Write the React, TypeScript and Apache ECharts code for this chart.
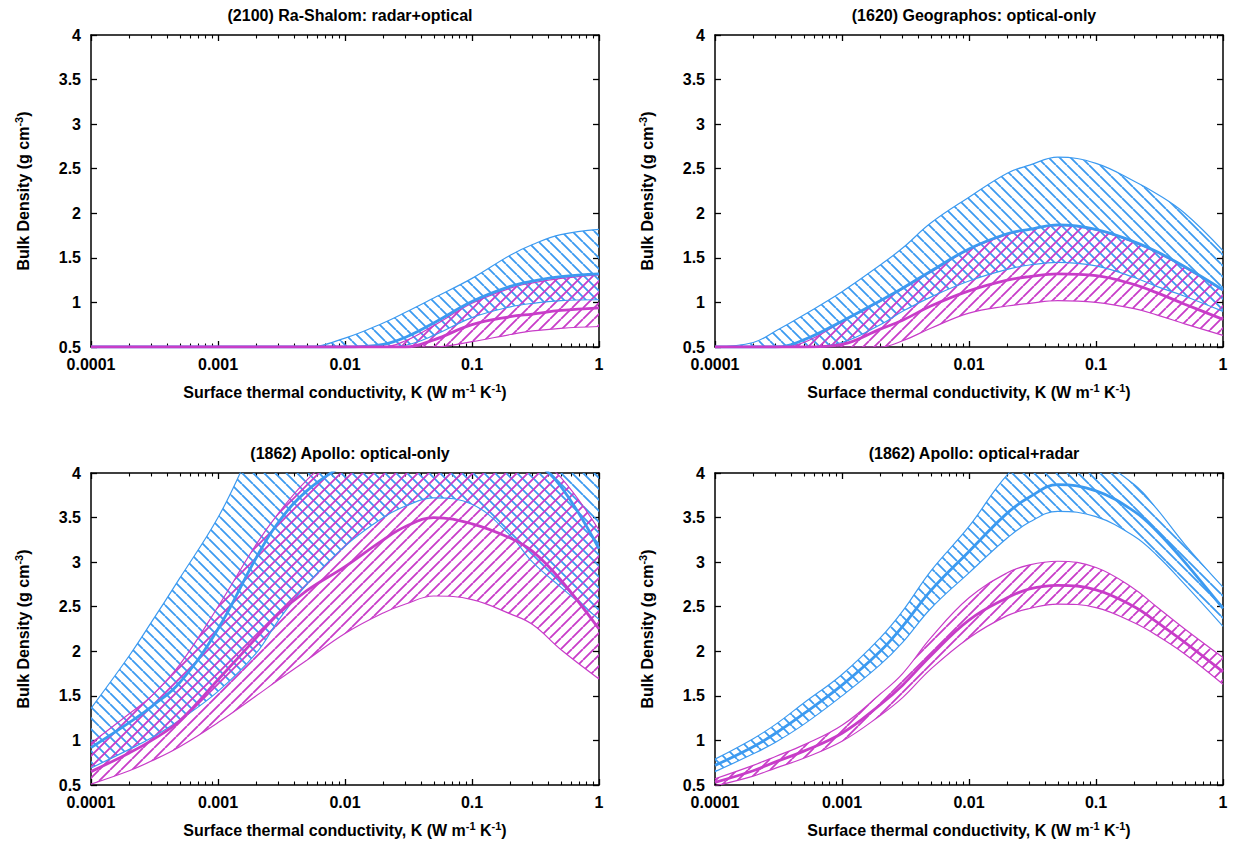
import React, { useEffect, useRef } from 'react';
import * as echarts from 'echarts';

// ---------------- data ----------------
const K = [0.0001, 0.0002, 0.0003, 0.0005, 0.001, 0.002, 0.003, 0.005, 0.01, 0.02, 0.03, 0.05, 0.1, 0.2, 0.3, 0.5, 1];

const titles = [
  '(2100) Ra-Shalom: radar+optical',
  '(1620) Geographos: optical-only',
  '(1862) Apollo: optical-only',
  '(1862) Apollo: optical+radar',
];

const xTickValues = [0.0001, 0.001, 0.01, 0.1, 1];
const xTickLabels = ['0.0001', '0.001', '0.01', '0.1', '1'];
const minorMultipliers = [2, 3, 4, 5, 6, 7, 8, 9];

// (2100) Ra-Shalom
const raBlueLow = [0.5, 0.5, 0.5, 0.5, 0.5, 0.5, 0.5, 0.5, 0.5, 0.5, 0.52, 0.63, 0.83, 0.95, 0.99, 1.02, 1.03];
const raBlueMid = [0.5, 0.5, 0.5, 0.5, 0.5, 0.5, 0.5, 0.5, 0.5, 0.53, 0.61, 0.77, 1.01, 1.18, 1.24, 1.29, 1.32];
const raBlueUp = [0.5, 0.5, 0.5, 0.5, 0.5, 0.5, 0.5, 0.5, 0.6, 0.77, 0.89, 1.05, 1.27, 1.53, 1.65, 1.76, 1.82];
const raMagLow = [0.5, 0.5, 0.5, 0.5, 0.5, 0.5, 0.5, 0.5, 0.5, 0.5, 0.5, 0.5, 0.56, 0.64, 0.68, 0.71, 0.73];
const raMagMid = [0.5, 0.5, 0.5, 0.5, 0.5, 0.5, 0.5, 0.5, 0.5, 0.5, 0.5, 0.58, 0.75, 0.84, 0.87, 0.91, 0.94];
const raMagUp = [0.5, 0.5, 0.5, 0.5, 0.5, 0.5, 0.5, 0.5, 0.5, 0.5, 0.57, 0.74, 0.99, 1.16, 1.22, 1.27, 1.31];

// (1620) Geographos
const geBlueLow = [0.5, 0.5, 0.5, 0.5, 0.55, 0.75, 0.9, 1.06, 1.24, 1.37, 1.42, 1.45, 1.41, 1.28, 1.18, 1.07, 0.9];
const geBlueMid = [0.5, 0.5, 0.5, 0.58, 0.79, 1.02, 1.16, 1.35, 1.6, 1.77, 1.82, 1.87, 1.82, 1.68, 1.57, 1.4, 1.14];
const geBlueUp = [0.5, 0.55, 0.68, 0.86, 1.12, 1.42, 1.61, 1.89, 2.18, 2.45, 2.54, 2.63, 2.56, 2.36, 2.22, 2.0, 1.58];
const geMagLow = [0.5, 0.5, 0.5, 0.5, 0.5, 0.5, 0.57, 0.71, 0.88, 0.96, 0.99, 1.02, 1.0, 0.93, 0.86, 0.76, 0.63];
const geMagMid = [0.5, 0.5, 0.5, 0.5, 0.53, 0.7, 0.8, 0.96, 1.13, 1.25, 1.29, 1.32, 1.3, 1.2, 1.11, 0.98, 0.81];
const geMagUp = [0.5, 0.5, 0.5, 0.55, 0.78, 1.01, 1.15, 1.34, 1.59, 1.76, 1.82, 1.86, 1.81, 1.67, 1.56, 1.39, 1.13];

// (1862) Apollo: optical-only
const apoBlueLow = [0.69, 0.9, 1.03, 1.23, 1.55, 1.98, 2.35, 2.75, 3.18, 3.5, 3.63, 3.72, 3.65, 3.3, 3.0, 2.72, 2.36];
const apoBlueMid = [0.92, 1.2, 1.38, 1.65, 2.25, 3.05, 3.45, 3.8, 4.1, 4.35, 4.45, 4.5, 4.45, 4.3, 4.15, 3.85, 3.15];
const apoBlueUp = [1.36, 1.95, 2.33, 2.82, 3.5, 4.35, 4.7, 5.0, 5.3, 5.45, 5.5, 5.55, 5.45, 5.15, 4.95, 4.6, 4.15];
const apoMagLow = [0.51, 0.66, 0.77, 0.93, 1.2, 1.5, 1.68, 1.9, 2.2, 2.43, 2.53, 2.62, 2.58, 2.42, 2.3, 2.02, 1.69];
const apoMagMid = [0.65, 0.86, 1.0, 1.22, 1.68, 2.15, 2.42, 2.68, 2.95, 3.25, 3.4, 3.5, 3.43, 3.27, 3.12, 2.8, 2.25];
const apoMagUp = [0.97, 1.3, 1.5, 1.85, 2.5, 3.2, 3.55, 3.92, 4.3, 4.6, 4.7, 4.8, 4.7, 4.4, 4.2, 3.95, 3.36];

// (1862) Apollo: optical+radar
const aprBlueLow = [0.65, 0.85, 0.98, 1.18, 1.5, 1.85, 2.1, 2.48, 2.88, 3.27, 3.45, 3.57, 3.51, 3.29, 3.08, 2.75, 2.28];
const aprBlueMid = [0.72, 0.93, 1.08, 1.3, 1.62, 2.0, 2.28, 2.68, 3.12, 3.55, 3.73, 3.87, 3.8, 3.57, 3.35, 3.0, 2.48];
const aprBlueUp = [0.79, 1.02, 1.18, 1.42, 1.74, 2.15, 2.45, 2.9, 3.4, 3.98, 4.15, 4.24, 4.14, 3.87, 3.6, 3.2, 2.72];
const aprMagLow = [0.49, 0.6, 0.69, 0.8, 0.99, 1.28, 1.48, 1.8, 2.15, 2.4, 2.48, 2.53, 2.49, 2.32, 2.18, 1.97, 1.63];
const aprMagMid = [0.53, 0.66, 0.76, 0.88, 1.08, 1.4, 1.62, 1.95, 2.35, 2.6, 2.7, 2.74, 2.69, 2.5, 2.33, 2.1, 1.77];
const aprMagUp = [0.57, 0.72, 0.82, 0.95, 1.17, 1.52, 1.75, 2.15, 2.6, 2.88, 2.97, 3.01, 2.94, 2.7, 2.5, 2.25, 1.93];

const panels = [
  { blue: [raBlueLow, raBlueMid, raBlueUp], mag: [raMagLow, raMagMid, raMagUp] },
  { blue: [geBlueLow, geBlueMid, geBlueUp], mag: [geMagLow, geMagMid, geMagUp] },
  { blue: [apoBlueLow, apoBlueMid, apoBlueUp], mag: [apoMagLow, apoMagMid, apoMagUp] },
  { blue: [aprBlueLow, aprBlueMid, aprBlueUp], mag: [aprMagLow, aprMagMid, aprMagUp] },
];

// ---------------- styling ----------------
const FONT = "'Liberation Sans', Arial, sans-serif";
const BLUE = '#3c9af0';
const MAG = '#c83cc8';
const GRID_POS = [
  { left: 91, top: 35 },
  { left: 715, top: 35 },
  { left: 91, top: 473 },
  { left: 715, top: 473 },
];
const GW = 508;
const GH = 312;
const SM = 0.4;

function hatch(color: string, dir: 'fwd' | 'back', s = 11, w = 1.8) {
  const c = document.createElement('canvas');
  c.width = s;
  c.height = s;
  const g = c.getContext('2d')!;
  g.strokeStyle = color;
  g.lineWidth = w;
  g.beginPath();
  for (let k = -1; k <= 1; k++) {
    if (dir === 'fwd') {
      g.moveTo(k * s, s);
      g.lineTo(k * s + s, 0);
    } else {
      g.moveTo(k * s, 0);
      g.lineTo(k * s + s, s);
    }
  }
  g.stroke();
  return { image: c.toDataURL(), repeat: 'repeat', repetition: 'repeat', imageWidth: s, imageHeight: s };
}

const fmtX = (v: number) => {
  const idx = xTickValues.findIndex((t) => Math.abs(Math.log10(t) - Math.log10(v)) < 1e-6);
  return idx >= 0 ? xTickLabels[idx] : '';
};

// minor tick positions in decades (log10 units) for the overlay tick axes
const decadeStarts = xTickValues.slice(0, -1).map((v) => Math.log10(v));
const minorDecades: number[] = [];
decadeStarts.forEach((d) => minorMultipliers.forEach((m) => minorDecades.push(d + Math.log10(m))));

// rows are [density, K] so that the stacked dimension is the density (y)
const rows = (vals: number[]) => K.map((k, j) => [vals[j], k]);

function buildOption() {
  const hatchBlue = hatch(BLUE, 'back');
  const hatchMag = hatch(MAG, 'fwd');
  const axisLine = { show: true, onZero: false, lineStyle: { color: '#000', width: 1.5 } };
  const axisTick = { show: true, inside: true, length: 6, lineStyle: { color: '#000', width: 1.3 } };
  const labelStyle = { color: '#000', fontSize: 16, fontWeight: 'bold', fontFamily: FONT };
  const rich = {
    t: { fontSize: 16, fontWeight: 'bold', fontFamily: FONT, color: '#000', lineHeight: 20 },
    s: { fontSize: 11, fontWeight: 'bold', fontFamily: FONT, color: '#000', lineHeight: 11, verticalAlign: 'top' },
  };

  const xAxis: any[] = [];
  const yAxis: any[] = [];
  const series: any[] = [];
  const title: any[] = [];

  panels.forEach((p, i) => {
    const g = GRID_POS[i];
    title.push({
      text: titles[i],
      left: g.left + GW / 2,
      top: g.top - 33,
      textAlign: 'center',
      textStyle: { ...labelStyle },
    });
    // 4i: main bottom axis (data)
    xAxis.push({
      gridIndex: i, type: 'log', logBase: 10, min: 0.0001, max: 1, position: 'bottom',
      axisLine, axisTick, minorTick: { show: false }, splitLine: { show: false },
      axisLabel: { ...labelStyle, margin: 9, formatter: fmtX, showMinLabel: true, showMaxLabel: true },
      name: '{t|Surface thermal conductivity, K (W m}{s|-1}{t| K}{s|-1}{t|)}',
      nameLocation: 'middle', nameGap: 35, nameTextStyle: { rich },
    });
    // 4i+1: mirrored top axis
    xAxis.push({
      gridIndex: i, type: 'log', logBase: 10, min: 0.0001, max: 1, position: 'top',
      axisLine, axisTick, minorTick: { show: false }, splitLine: { show: false },
      axisLabel: { show: false },
    });
    // 4i+2, 4i+3: minor tick overlays (decade units), bottom and top
    ['bottom', 'top'].forEach((pos) => {
      xAxis.push({
        gridIndex: i, type: 'value', min: -4, max: 0, position: pos,
        axisLine: { show: false }, splitLine: { show: false }, axisLabel: { show: false },
        axisTick: {
          show: true, inside: true, length: 3.5, customValues: minorDecades,
          lineStyle: { color: '#000', width: 1.1 },
        },
      });
    });
    yAxis.push({
      gridIndex: i, type: 'value', min: 0.5, max: 4, interval: 0.5, position: 'left',
      axisLine, axisTick, splitLine: { show: false },
      axisLabel: { ...labelStyle, margin: 10 },
      name: '{t|Bulk Density (g cm}{s|-3}{t|)}',
      nameLocation: 'middle', nameGap: 58, nameRotate: 90, nameTextStyle: { rich },
    });
    yAxis.push({
      gridIndex: i, type: 'value', min: 0.5, max: 4, interval: 0.5, position: 'right',
      axisLine, axisTick, splitLine: { show: false }, axisLabel: { show: false },
    });

    const base = {
      type: 'line', xAxisIndex: 4 * i, yAxisIndex: 2 * i, symbol: 'none', showSymbol: false,
      smooth: SM, silent: true, encode: { x: 1, y: 0 },
    };
    const bands: [number[][], string, any, string][] = [
      [p.blue, BLUE, hatchBlue, 'b'],
      [p.mag, MAG, hatchMag, 'm'],
    ];
    bands.forEach(([arr, color, pat, key]) => {
      const [low, mid, up] = arr;
      const stack = `p${i}${key}`;
      const width = up.map((u, j) => u - low[j]);
      series.push({ ...base, stack, z: 2, data: rows(low), lineStyle: { color, width: 1.2 } });
      series.push({
        ...base, stack, z: 1, data: rows(width),
        lineStyle: { width: 0, opacity: 0 },
        areaStyle: { color: pat, opacity: 1 },
      });
      series.push({ ...base, z: 2, data: rows(up), lineStyle: { color, width: 1.2 } });
      series.push({ ...base, z: 3, data: rows(mid), lineStyle: { color, width: 2.8 } });
    });
  });

  return {
    animation: false,
    backgroundColor: '#fff',
    title,
    grid: GRID_POS.map((g) => ({ left: g.left, top: g.top, width: GW, height: GH, containLabel: false })),
    xAxis,
    yAxis,
    series,
  };
}

export default function App() {
  const ref = useRef<HTMLDivElement>(null);
  useEffect(() => {
    if (!ref.current) return;
    const chart = echarts.init(ref.current, undefined, { renderer: 'svg' });
    chart.setOption(buildOption() as any);
    return () => chart.dispose();
  }, []);
  return (
    <div
      ref={ref}
      style={{ position: 'absolute', left: 0, top: 0, width: '1233px', height: '846px', background: '#fff' }}
    />
  );
}
